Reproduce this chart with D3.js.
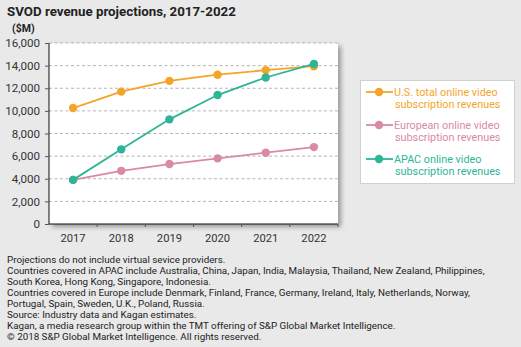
<!DOCTYPE html>
<html><head><meta charset="utf-8">
<script src="https://cdn.jsdelivr.net/npm/d3@7"></script>
<style>
html,body{margin:0;padding:0;background:#e9e9e9;}
svg{display:block;font-family:Roboto, "Noto Sans", sans-serif;}
</style></head><body>
<svg id="c" width="521" height="347"></svg>
<script>
const years = ["2017","2018","2019","2020","2021","2022"];
const usValues = [10250, 11700, 12650, 13200, 13600, 13950];
const europeValues = [3900, 4700, 5300, 5800, 6300, 6800];
const apacValues = [3900, 6600, 9250, 11400, 12950, 14150];
const yTicks = [0,2000,4000,6000,8000,10000,12000,14000,16000];
const seriesNames = [["U.S. total online video","subscription revenues"],["European online video","subscription revenues"],["APAC online video","subscription revenues"]];
const seriesColors = ["#f5a42a","#d98aa6","#2db597"];
const notes = [
"Projections do not include virtual sevice providers.",
"Countries covered in APAC include Australia, China, Japan, India, Malaysia, Thailand, New Zealand, Philippines,",
"South Korea, Hong Kong, Singapore, Indonesia.",
"Countries covered in Europe include Denmark, Finland, France, Germany, Ireland, Italy, Netherlands, Norway,",
"Portugal, Spain, Sweden, U.K., Poland, Russia.",
"Source: Industry data and Kagan estimates.",
"Kagan, a media research group within the TMT offering of S&P Global Market Intelligence.",
"\u00a9 2018 S&P Global Market Intelligence. All rights reserved."
];
const series = [usValues, europeValues, apacValues];

const svg = d3.select("#c");
const L=49, R=338, T=43, B=224;
const defs = svg.append("defs");
const f = defs.append("filter").attr("id","sh").attr("x","-10%").attr("y","-10%").attr("width","130%").attr("height","130%");
f.append("feGaussianBlur").attr("in","SourceAlpha").attr("stdDeviation",2.5);
f.append("feOffset").attr("dx",3).attr("dy",3).attr("result","b");
f.append("feComponentTransfer").append("feFuncA").attr("type","linear").attr("slope",0.35);
const m = f.append("feMerge"); m.append("feMergeNode"); m.append("feMergeNode").attr("in","SourceGraphic");

svg.append("text").attr("x",7).attr("y",16).attr("font-size",13.3).attr("font-weight","bold").attr("fill","#222").text("SVOD revenue projections, 2017-2022");
svg.append("text").attr("x",12).attr("y",32).attr("font-size",10.5).attr("font-weight","bold").attr("fill","#222").text("($M)");

svg.append("rect").attr("x",L).attr("y",T).attr("width",R-L).attr("height",B-T).attr("fill","#fff").attr("filter","url(#sh)");

const x = d3.scaleBand().domain(years).range([L,R]);
const y = d3.scaleLinear().domain([0,16000]).range([B,T]);

svg.append("g").selectAll("line").data(yTicks.filter(d=>d>0)).join("line")
  .attr("x1",L).attr("x2",R).attr("y1",d=>y(d)).attr("y2",d=>y(d))
  .attr("stroke","#b5b5b5").attr("stroke-dasharray","3,2.5").attr("stroke-width",1);

const ya = svg.append("g").attr("transform",`translate(${L},0)`)
  .call(d3.axisLeft(y).tickValues(yTicks).tickSize(4).tickFormat(d3.format(",")));
ya.select(".domain").attr("stroke","#111").attr("d",`M0,${T}V${B}`);
ya.selectAll(".tick line").attr("stroke","#555");
ya.selectAll("text").attr("font-size",11.6).attr("fill","#333").attr("x",-9).attr("font-family","Roboto, sans-serif");

const xa = svg.append("g").attr("transform",`translate(0,${B})`)
  .call(d3.axisBottom(x).tickSize(0));
xa.select(".domain").attr("stroke","#111").attr("d",`M${L},0H${R}`);
xa.selectAll(".tick line").remove();
xa.selectAll("text").attr("font-size",11.2).attr("fill","#333").attr("dy",0).attr("y",18).attr("font-family","Roboto, sans-serif");
svg.append("g").selectAll("line").data(years.slice(1)).join("line")
  .attr("x1",d=>x(d)).attr("x2",d=>x(d)).attr("y1",B).attr("y2",B+3).attr("stroke","#555");
svg.append("line").attr("x1",R).attr("x2",R).attr("y1",B).attr("y2",B+3).attr("stroke","#555");

const cx = d=>x(d)+x.bandwidth()/2;
const line = d3.line().x((d,i)=>cx(years[i])).y(d=>y(d));
series.forEach((s,k)=>{
  svg.append("path").datum(s).attr("d",line).attr("fill","none").attr("stroke",seriesColors[k]).attr("stroke-width",1.8);
  svg.append("g").selectAll("circle").data(s).join("circle")
    .attr("cx",(d,i)=>cx(years[i])).attr("cy",d=>y(d)).attr("r",4.2).attr("fill",seriesColors[k]);
});

// legend
svg.append("rect").attr("x",360.5).attr("y",80.5).attr("width",154).attr("height",103).attr("fill","#fff").attr("stroke","#d0d0d0");
const ly = [92, 125, 159];
seriesNames.forEach((nm,k)=>{
  const g = svg.append("g");
  g.append("line").attr("x1",366).attr("x2",393).attr("y1",ly[k]).attr("y2",ly[k]).attr("stroke",seriesColors[k]).attr("stroke-width",1.8);
  g.append("circle").attr("cx",379).attr("cy",ly[k]).attr("r",4.2).attr("fill",seriesColors[k]);
  nm.forEach((t,j)=>g.append("text").attr("x",j===0?394:395).attr("y",ly[k]+4+j*12).attr("font-size",10.8).attr("fill",seriesColors[k]).text(t));
});

svg.append("g").selectAll("text").data(notes).join("text")
  .attr("x",7).attr("y",(d,i)=>263+i*11).attr("font-size",9.8).attr("fill","#222").text(d=>d);
</script>
</body></html>
